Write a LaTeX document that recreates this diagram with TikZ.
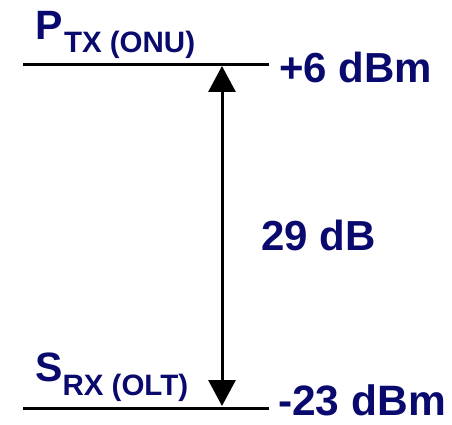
\documentclass[tikz,border=0pt]{standalone}
\usepackage{fontspec}
\setmainfont{Liberation Sans}
\usetikzlibrary{arrows.meta}
\definecolor{navy}{RGB}{10,10,110}
\tikzset{
  lvl/.style={line width=3pt, black},
  span/.style={line width=3pt, black, {Triangle[length=26pt,width=27pt]}-{Triangle[length=26pt,width=27pt]}},
  lbl/.style={inner sep=0pt, anchor=base west, text=navy, font=\bfseries\fontsize{42}{42}\selectfont},
  sigtxt/.style={inner sep=0pt, anchor=base west, text=navy, font=\bfseries}
}
\begin{document}
\begin{tikzpicture}[x=1pt,y=-1pt]
\useasboundingbox (0,0) rectangle (452,425);
\coordinate (tl) at (23,65);
\coordinate (tr) at (269,65);
\coordinate (bl) at (23,408);
\coordinate (br) at (269,408);
\coordinate (ta) at (222,66);
\coordinate (ba) at (222,406);
\draw[lvl] (tl) -- (tr);
\draw[lvl] (bl) -- (br);
\draw[span] (ta) -- (ba);
\node[sigtxt] (ptx) at (35,40) {\fontsize{41}{41}\selectfont P\kern1.5pt\raisebox{-13pt}{\fontsize{29.5}{29.5}\selectfont TX (ONU)}};
\node[sigtxt] (srx) at (35,381) {\fontsize{41}{41}\selectfont S\raisebox{-14pt}{\fontsize{29.5}{29.5}\selectfont RX (OLT)}};
\node[lbl] (p6) at (279,83) {+6 dBm};
\node[lbl, font=\bfseries\fontsize{42.5}{42.5}\selectfont] (m23) at (278,415) {-23 dBm};
\node[lbl] (db) at (261,250) {29 dB};
\end{tikzpicture}
\end{document}
